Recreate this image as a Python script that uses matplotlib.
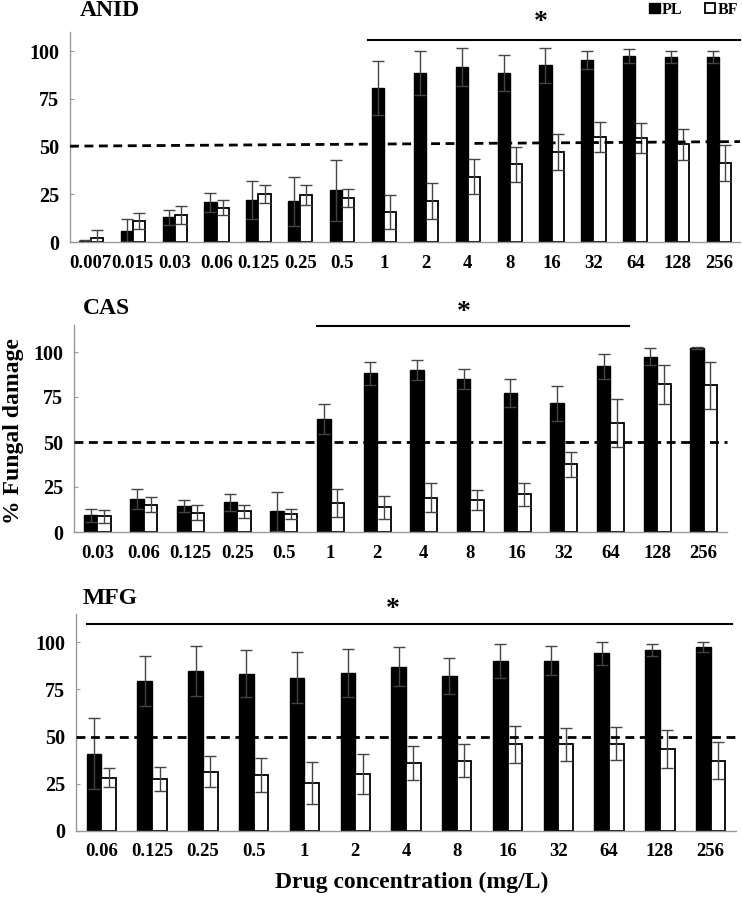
import matplotlib
matplotlib.use('Agg')
import matplotlib.pyplot as plt
from matplotlib.patches import Patch
import numpy as np

plt.rcParams['font.family'] = ['Liberation Serif', 'DejaVu Serif']
plt.rcParams['font.weight'] = 'bold'

# ---------------- data ----------------
anid_labels = ['0.007', '0.015', '0.03', '0.06', '0.125', '0.25', '0.5', '1', '2', '4',
               '8', '16', '32', '64', '128', '256']
anid_pl = [0.3, 6, 13, 20.8, 22, 21.3, 27, 80.6, 88.6, 91.6, 88.6, 92.5, 95.5, 97.6, 97, 97]
anid_pl_err = [0.8, 6, 4, 5, 9.8, 12.7, 15.8, 14, 11.4, 10.1, 9.3, 9.2, 4.8, 3.6, 3.3, 3.3]
anid_bf = [2, 11, 14.3, 18, 25.3, 24.5, 23, 15.6, 21.5, 34.3, 40.6, 47.2, 55, 54.5, 51.2, 41.4]
anid_bf_err = [4.5, 4.3, 4.7, 4, 4.7, 5.2, 4.8, 8.9, 9.5, 9.2, 9.4, 9.4, 7.8, 7.7, 8.1, 9.5]

cas_labels = ['0.03', '0.06', '0.125', '0.25', '0.5', '1', '2', '4', '8', '16', '32', '64',
              '128', '256']
cas_pl = [9.3, 18.3, 14.6, 16.5, 11.5, 63, 88.1, 90, 85, 77.2, 71.5, 92, 97.4, 102.4]
cas_pl_err = [3.5, 5.7, 3.4, 4.8, 10.7, 8.3, 6.3, 5.6, 5.6, 7.6, 9.6, 6.9, 4.8, 0.6]
cas_bf = [8.7, 15.2, 10.6, 11.5, 10, 16.1, 13.7, 19, 17.8, 20.9, 37.6, 60.6, 82, 81.5]
cas_bf_err = [3.7, 4.2, 4.2, 3.7, 3, 7.9, 6.3, 8, 5.3, 6.3, 7, 13.1, 10.8, 12.9]

mfg_labels = ['0.06', '0.125', '0.25', '0.5', '1', '2', '4', '8', '16', '32', '64', '128', '256']
mfg_pl = [41, 79.5, 84.6, 83.4, 81.3, 83.7, 87.1, 82.3, 90.3, 90.3, 94.2, 95.8, 97.5]
mfg_pl_err = [18.9, 13.3, 13.3, 12.4, 13.7, 12.6, 10.2, 9.6, 9, 7.6, 6, 3.2, 2.7]
mfg_bf = [28.3, 27.6, 31.4, 29.7, 25.4, 30, 36, 37.3, 45.9, 45.9, 46.3, 43.6, 37.3]
mfg_bf_err = [4.9, 6.3, 8.2, 8.8, 11.2, 10.6, 9.2, 8.6, 9.6, 8.7, 8.8, 10.1, 9.7]

y_ticks = [0, 25, 50, 75, 100]

# ---------------- figure ----------------
W, H = 742, 900
fig = plt.figure(figsize=(W / 100, H / 100), dpi=100)


def px_axes(left, right, top, bottom):
    return fig.add_axes([left / W, 1 - bottom / H, (right - left) / W, (bottom - top) / H])


def draw_panel(ax, labels, pl, pl_err, bf, bf_err, ymax, title, title_pos, sig, star, dash):
    n = len(labels)
    x = np.arange(n)
    w = 0.29
    ekw = dict(ecolor='#444444', elinewidth=1.0, capsize=4, capthick=1.0)
    ax.bar(x - w / 2, pl, w, color='black', edgecolor='black', linewidth=1,
           yerr=pl_err, error_kw=ekw, zorder=2)
    ax.bar(x + w / 2, bf, w, color='white', edgecolor='black', linewidth=1.3,
           yerr=bf_err, error_kw=ekw, zorder=2)
    ax.set_xlim(-0.5, n - 0.5)
    ax.set_ylim(0, ymax)
    ax.set_xticks(x)
    ax.set_xticklabels(labels, fontsize=13.5, fontweight='bold')
    ax.set_yticks(y_ticks)
    ax.set_yticklabels([str(v) for v in y_ticks], fontsize=14.5, fontweight='bold')
    ax.tick_params(axis='x', length=0, pad=9)
    ax.tick_params(axis='y', direction='in', length=3, color='#999999', pad=8)
    for s in ['top', 'right']:
        ax.spines[s].set_visible(False)
    for s in ['left', 'bottom']:
        ax.spines[s].set_color('#999999')
        ax.spines[s].set_linewidth(1.0)
    ax.plot([-0.5, n - 0.5], dash, color='black', lw=2.0,
            linestyle=(0, (3.2, 2.0)), zorder=3, clip_on=False)
    ax.plot([sig[0], sig[1]], [sig[2], sig[2]], color='black', lw=1.5, clip_on=False)
    ax.text(star[0], star[1], '*', fontsize=20, fontweight='bold', ha='center', va='center',
            clip_on=False)
    fig.text(title_pos[0] / W, 1 - title_pos[1] / H, title, fontsize=17, fontweight='bold',
             ha='left', va='center')


ax1 = px_axes(70, 740, 32, 242)
draw_panel(ax1, anid_labels, anid_pl, anid_pl_err, anid_bf, anid_bf_err, 110, 'ANID',
           (80, 11), (6.62, 15.5, 106), (10.75, 115), [50.2, 52.6])

ax2 = px_axes(74, 727, 325, 532)
draw_panel(ax2, cas_labels, cas_pl, cas_pl_err, cas_bf, cas_bf_err, 115, 'CAS',
           (83, 309), (4.7, 11.4, 114.2), (7.85, 122), [50, 50])

ax3 = px_axes(76, 736, 614, 831)
draw_panel(ax3, mfg_labels, mfg_pl, mfg_pl_err, mfg_bf, mfg_bf_err, 115, 'MFG',
           (83, 599), (-0.28, 12.43, 109.5), (5.74, 117.5), [49.7, 49.7])

fig.text(14 / W, 1 - 431 / H, '% Fungal damage', rotation=90, fontsize=17,
         fontweight='bold', ha='center', va='center')
fig.text(412 / W, 1 - 882 / H, 'Drug concentration (mg/L)', fontsize=17,
         fontweight='bold', ha='center', va='center')

handles = [Patch(facecolor='black', edgecolor='black', label='PL'),
           Patch(facecolor='white', edgecolor='black', linewidth=1.3, label='BF')]
fig.legend(handles=handles, loc='upper right', bbox_to_anchor=(0.997, 1.0), ncol=2,
           frameon=False, prop={'size': 11.5, 'weight': 'bold'}, handlelength=0.65,
           handleheight=0.65, handletextpad=0.15, columnspacing=1.4, borderaxespad=0.0,
           borderpad=0.1)

fig.savefig('out.png', dpi=100)
